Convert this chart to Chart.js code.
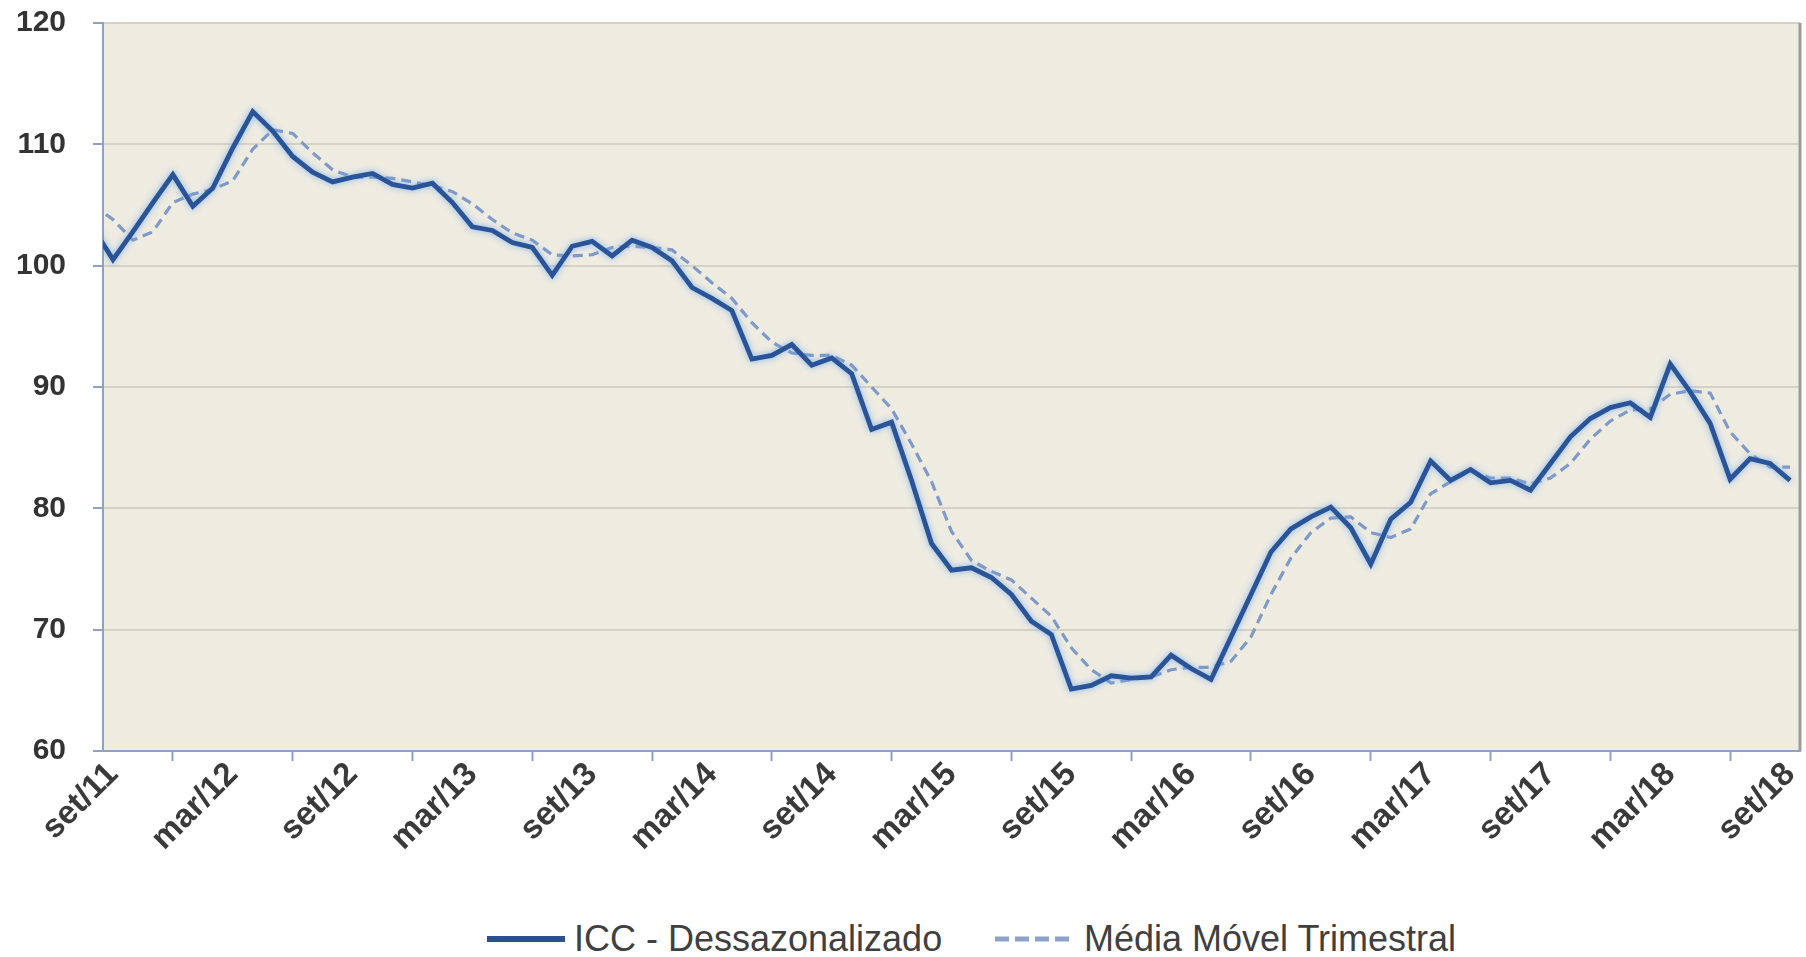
<!DOCTYPE html>
<html>
<head>
<meta charset="utf-8">
<script src="https://cdn.jsdelivr.net/npm/chart.js@4/dist/chart.umd.min.js"></script>
<style>
html,body{margin:0;padding:0;background:#fff;}
#wrap{position:relative;width:1806px;height:957px;overflow:hidden;}
#box{position:absolute;left:0;top:0;width:1806px;height:905px;}
#legend{position:absolute;top:919px;left:0;width:1806px;height:40px;font-family:"Liberation Sans",Arial,sans-serif;font-size:36px;color:#404040;}
.item{position:absolute;top:0;height:40px;display:flex;align-items:center;white-space:nowrap;}
.item svg{margin-right:9px;}
</style>
</head>
<body>
<div id="wrap">
  <div id="box"><canvas id="c"></canvas></div>
  <div id="legend">
    <div class="item" style="left:487px"><svg width="78" height="12"><line x1="0" y1="6" x2="78" y2="6" stroke="#2d5289" stroke-width="6"/></svg><span>ICC - Dessazonalizado</span></div>
    <div class="item" style="left:995px"><svg width="80" height="12"><line x1="0" y1="6" x2="80" y2="6" stroke="#8ea3c9" stroke-width="5" stroke-dasharray="14,6"/></svg><span>Média Móvel Trimestral</span></div>
  </div>
</div>
<script>
// Categories (first and last lie just outside the visible axis range, at the plot edges)
const labels = [
  'ago/11','set/11','out/11','nov/11','dez/11',
  'jan/12','fev/12','mar/12','abr/12','mai/12','jun/12','jul/12','ago/12','set/12','out/12','nov/12','dez/12',
  'jan/13','fev/13','mar/13','abr/13','mai/13','jun/13','jul/13','ago/13','set/13','out/13','nov/13','dez/13',
  'jan/14','fev/14','mar/14','abr/14','mai/14','jun/14','jul/14','ago/14','set/14','out/14','nov/14','dez/14',
  'jan/15','fev/15','mar/15','abr/15','mai/15','jun/15','jul/15','ago/15','set/15','out/15','nov/15','dez/15',
  'jan/16','fev/16','mar/16','abr/16','mai/16','jun/16','jul/16','ago/16','set/16','out/16','nov/16','dez/16',
  'jan/17','fev/17','mar/17','abr/17','mai/17','jun/17','jul/17','ago/17','set/17','out/17','nov/17','dez/17',
  'jan/18','fev/18','mar/18','abr/18','mai/18','jun/18','jul/18','ago/18','set/18','out/18'
];

const iccDessazonalizado = [
  103.1, 100.5, 102.8, 105.2, 107.5,
  104.9, 106.4, 109.7, 112.7, 111.1, 109.0, 107.7, 106.9, 107.3, 107.6, 106.7, 106.4,
  106.8, 105.2, 103.2, 102.9, 101.9, 101.5, 99.2, 101.6, 102.0, 100.8, 102.1, 101.5,
  100.4, 98.2, 97.3, 96.3, 92.3, 92.6, 93.5, 91.8, 92.4, 91.1, 86.5, 87.1,
  82.3, 77.1, 74.9, 75.1, 74.3, 72.9, 70.7, 69.6, 65.1, 65.4, 66.2, 66.0,
  66.1, 67.9, 66.8, 65.9, 69.4, 72.9, 76.4, 78.3, 79.3, 80.1, 78.4, 75.4,
  79.1, 80.5, 83.9, 82.3, 83.2, 82.1, 82.3, 81.5, 83.7, 85.9, 87.4, 88.3,
  88.7, 87.5, 91.9, 89.6, 87.0, 82.4, 84.1, 83.7, 82.3, 81.6
];

const mediaMovelTrimestral = [
  105.0, 103.8, 102.1, 102.8, 105.2,
  105.9, 106.3, 107.0, 109.6, 111.2, 110.9, 109.3, 107.9, 107.3, 107.3, 107.2, 106.9,
  106.6, 106.1, 105.1, 103.8, 102.7, 102.1, 100.9, 100.8, 100.9, 101.5, 101.6, 101.5,
  101.3, 100.0, 98.6, 97.3, 95.3, 93.7, 92.8, 92.6, 92.6, 91.8, 90.0, 88.2,
  85.3, 82.2, 78.1, 75.7, 74.8, 74.1, 72.6, 71.1, 68.5, 66.7, 65.6, 65.9,
  66.1, 66.7, 66.9, 66.9, 67.4, 69.4, 72.9, 75.9, 78.0, 79.2, 79.3, 78.0,
  77.6, 78.3, 81.2, 82.2, 83.1, 82.5, 82.5, 82.0, 82.5, 83.7, 85.7, 87.2,
  88.1, 88.2, 89.4, 89.7, 89.5, 86.3, 84.5, 83.4, 83.4, 82.5
];

const yMin = 60, yMax = 120, yStep = 10;
const firstVisible = 'set/11';
const lastVisible = 'set/18';

const FONT = '"Liberation Sans", Arial, sans-serif';
const AXIS = '#8da2c6';

const plotBg = {
  id: 'plotBg',
  beforeDraw(chart) {
    const {ctx, chartArea: a} = chart;
    ctx.save();
    ctx.fillStyle = '#eeebe1';
    ctx.fillRect(a.left, a.top, a.right - a.left, a.bottom - a.top);
    ctx.restore();
  },
  beforeDatasetsDraw(chart) {
    const {ctx, chartArea: a} = chart;
    ctx.save();
    ctx.strokeStyle = '#9b9b9b';
    ctx.lineWidth = 3;
    ctx.beginPath();
    ctx.moveTo(a.right, a.top);
    ctx.lineTo(a.right, a.bottom);
    ctx.stroke();
    ctx.restore();
  }
};

const glow = {
  id: 'glow',
  beforeDatasetDraw(chart, args) {
    if (args.index === 0) {
      const c = chart.ctx;
      c.save();
      c.shadowColor = 'rgba(110,170,235,0.85)';
      c.shadowBlur = 6;
    }
  },
  afterDatasetDraw(chart, args) {
    if (args.index === 0) chart.ctx.restore();
  }
};

new Chart(document.getElementById('c'), {
  type: 'line',
  data: {
    labels: labels,
    datasets: [
      {
        label: 'ICC - Dessazonalizado',
        data: iccDessazonalizado,
        borderColor: '#2a5497',
        borderWidth: 4.8,
        pointRadius: 0,
        tension: 0,
        fill: false
      },
      {
        label: 'Média Móvel Trimestral',
        data: mediaMovelTrimestral,
        borderColor: '#7f99c8',
        borderWidth: 3.2,
        borderDash: [10, 6],
        pointRadius: 0,
        tension: 0,
        fill: false
      }
    ]
  },
  options: {
    responsive: true,
    maintainAspectRatio: false,
    animation: false,
    layout: {padding: {top: 23, right: 0, left: 0, bottom: 0}},
    plugins: {legend: {display: false}, tooltip: {enabled: false}},
    scales: {
      x: {
        type: 'category',
        min: firstVisible,
        max: lastVisible,
        offset: true,
        grid: {offset: true, drawOnChartArea: false, drawTicks: true, tickLength: 10, tickColor: AXIS, tickWidth: 2},
        border: {color: AXIS, width: 2},
        ticks: {
          autoSkip: false, maxRotation: 45, minRotation: 45, padding: -6,
          color: '#3a3a3a', font: {family: FONT, size: 33, weight: 'bold'},
          callback: (v) => ((v - 1) % 6 === 0 ? labels[v] : null)
        },
        afterFit: (s) => { s.height = 154; s.paddingRight = 6; s.paddingLeft = 0; }
      },
      y: {
        min: yMin, max: yMax,
        grid: {color: '#d6d1c5', lineWidth: 2, tickLength: 10, tickColor: AXIS, tickWidth: 2},
        border: {color: AXIS, width: 2},
        ticks: {stepSize: yStep, padding: 27, color: '#333333', font: {family: FONT, size: 30, weight: 'bold'}},
        afterFit: (s) => { s.width = 103; s.paddingTop = 0; s.paddingBottom = 0; }
      }
    }
  },
  plugins: [plotBg, glow]
});
</script>
</body>
</html>
